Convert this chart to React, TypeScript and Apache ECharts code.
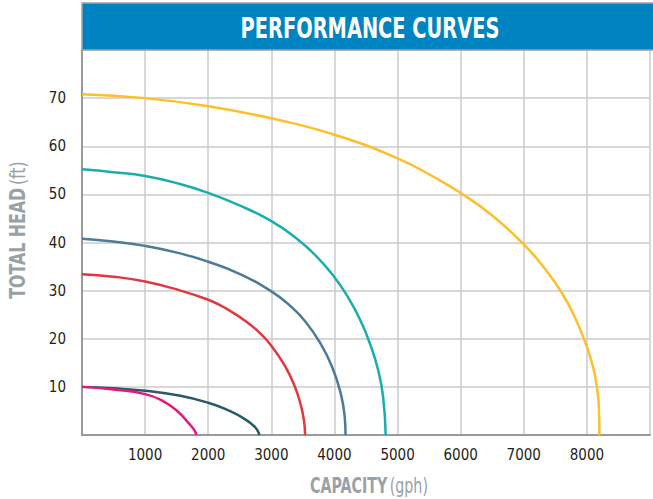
import React, { useEffect, useRef } from "react";
import * as echarts from "echarts";

const xTicks = [0, 1000, 2000, 3000, 4000, 5000, 6000, 7000, 8000, 9000];
const yTicks = [0, 10, 20, 30, 40, 50, 60, 70, 80];

const yellowCurve: number[][] = [
  [0, 70.8], [1000, 70.0], [2000, 68.3], [3000, 65.8], [4000, 62.4], [5000, 57.5],
  [5605, 53.4], [6000, 50.3], [6491, 45.7], [7000, 39.6], [7325, 34.7], [7586, 29.9],
  [7795, 24.9], [8000, 18.3], [8100, 14.0], [8159, 9.9], [8190, 5.8], [8198, 0],
];
const tealCurve: number[][] = [
  [0, 55.2], [494, 54.6], [1000, 53.8], [1538, 52.2], [2000, 50.3], [2476, 47.8],
  [3000, 44.45], [3390, 40.95], [3700, 37.35], [4000, 32.8], [4197, 29.0], [4405, 24.0],
  [4562, 19.0], [4693, 13.5], [4771, 7.9], [4812, 0],
];
const slateCurve: number[][] = [
  [0, 40.8], [494, 40.2], [1000, 39.3], [1538, 37.8], [2000, 36.0], [2476, 33.6],
  [3000, 29.85], [3310, 26.7], [3545, 23.5], [3780, 19.0], [3962, 14.2], [4092, 9.0],
  [4160, 4.15], [4176, 0],
];
const redCurve: number[][] = [
  [0, 33.4], [494, 32.9], [1000, 31.9], [1538, 30.1], [2000, 28.1], [2268, 26.4],
  [2600, 23.6], [2841, 20.9], [3000, 18.55], [3207, 14.55], [3363, 10.4], [3467, 6.2],
  [3519, 2.8], [3535, 0],
];
const darkTealCurve: number[][] = [
  [0, 10], [494, 9.7], [1000, 9.2], [1538, 8.2], [2000, 6.7], [2320, 5.1],
  [2581, 3.3], [2737, 1.7], [2790, 0.7], [2810, 0],
];
const magentaCurve: number[][] = [
  [0, 10], [494, 9.45], [1000, 8.5], [1277, 7.1], [1500, 5.1], [1700, 2.3],
  [1790, 0.8], [1809, 0],
];

const curves = [
  { name: "A", data: yellowCurve, color: "#FDBF2A" },
  { name: "B", data: tealCurve, color: "#1AADAE" },
  { name: "C", data: slateCurve, color: "#4B7B9A" },
  { name: "D", data: redCurve, color: "#E3373F" },
  { name: "E", data: darkTealCurve, color: "#285B69" },
  { name: "F", data: magentaCurve, color: "#E8157F" },
];

const FONT = "'DejaVu Sans Condensed', 'Liberation Sans Narrow', sans-serif";
const GREY = "#98a2a6";

export default function App() {
  const ref = useRef<HTMLDivElement>(null);
  useEffect(() => {
    if (!ref.current) return;
    const chart = echarts.init(ref.current, undefined, { renderer: "svg" });
    const xMin = xTicks[0];
    const xMax = xTicks[xTicks.length - 1];
    const yMin = yTicks[0];
    const yMax = yTicks[yTicks.length - 1];
    const titleRich = {
      b: { fontFamily: FONT, fontWeight: "bold", fontSize: 22, fill: GREY, color: GREY },
      n: { fontFamily: FONT, fontWeight: "normal", fontSize: 22, fill: GREY, color: GREY },
    };
    chart.setOption({
      animation: false,
      backgroundColor: "#ffffff",
      grid: { left: 82, top: 50, right: -4, bottom: 64, containLabel: false },
      xAxis: {
        type: "value",
        min: xMin,
        max: xMax,
        interval: 1000,
        axisLine: { show: true, lineStyle: { color: "#9a9a9a", width: 2 } },
        axisTick: { show: false },
        axisLabel: {
          margin: 12,
          fontFamily: FONT,
          fontSize: 15,
          color: "#231f20",
          formatter: (v: number) => (v === xMin || v === xMax ? "" : String(v)),
        },
        splitLine: { show: true, lineStyle: { color: "#cbcbcb", width: 1.5 } },
      },
      yAxis: {
        type: "value",
        min: yMin,
        max: yMax,
        interval: 10,
        axisLine: { show: true, lineStyle: { color: "#9a9a9a", width: 2 } },
        axisTick: { show: false },
        axisLabel: {
          margin: 16,
          fontFamily: FONT,
          fontSize: 15,
          color: "#231f20",
          formatter: (v: number) => (v === yMin || v === yMax ? "" : String(v)),
        },
        splitLine: { show: true, lineStyle: { color: "#cbcbcb", width: 1.5 } },
      },
      graphic: [
        {
          type: "rect",
          shape: { x: 82, y: 3, width: 580, height: 47 },
          style: { fill: "#0084C1", stroke: "#a3a3a3", lineWidth: 1.5 },
          z: 10,
        },
        {
          type: "text",
          x: 370,
          y: 28,
          scaleX: 0.77,
          style: {
            text: "PERFORMANCE CURVES",
            fill: "#ffffff",
            font: `bold 28px ${FONT}`,
            align: "center",
            verticalAlign: "middle",
          },
          z: 11,
        },
        {
          type: "text",
          x: 369,
          y: 486,
          scaleX: 0.72,
          style: {
            text: "{b|CAPACITY} {n|(gph)}",
            rich: titleRich,
            align: "center",
            verticalAlign: "middle",
          },
          z: 11,
        },
        {
          type: "text",
          x: 18,
          y: 230,
          rotation: Math.PI / 2,
          scaleX: 0.8,
          style: {
            text: "{b|TOTAL HEAD} {n|(ft)}",
            rich: titleRich,
            align: "center",
            verticalAlign: "middle",
          },
          z: 11,
        },
      ],
      series: curves.map((c) => ({
        type: "line",
        name: c.name,
        data: c.data,
        smooth: 0.5,
        symbol: "none",
        lineStyle: { color: c.color, width: 2.5 },
        itemStyle: { color: c.color },
        z: 3,
      })),
    });
    return () => chart.dispose();
  }, []);
  return (
    <div
      ref={ref}
      style={{ position: "fixed", left: 0, top: 0, width: 653, height: 499 }}
    />
  );
}
